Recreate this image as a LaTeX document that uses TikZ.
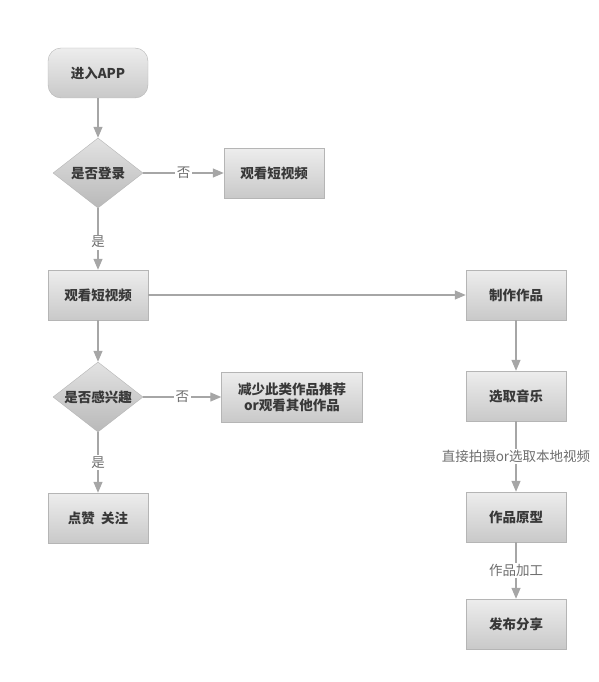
\documentclass[tikz,border=0pt]{standalone}
\usepackage{fontspec}
\setmainfont{Noto Sans CJK SC}
\usetikzlibrary{shapes.geometric, arrows.meta}
\definecolor{boxtop}{HTML}{EDEDED}
\definecolor{boxbot}{HTML}{C9C9C9}
\definecolor{boxline}{HTML}{B5B5B5}
\definecolor{flowline}{HTML}{A6A6A6}
\definecolor{boxtext}{HTML}{383838}
\definecolor{labeltext}{HTML}{6E6E6E}
\tikzstyle{startstop} = [rectangle, rounded corners=13pt, minimum width=100pt, minimum height=50pt, text centered, draw=boxline, top color=boxtop, bottom color=boxbot, text=boxtext, font=\fontsize{13.5}{16}\selectfont\bfseries]
\tikzstyle{process} = [rectangle, minimum width=100pt, minimum height=50pt, text centered, draw=boxline, top color=boxtop, bottom color=boxbot, text=boxtext, font=\fontsize{13.5}{16}\selectfont\bfseries]
\tikzstyle{decision} = [diamond, aspect=1.3, minimum width=90pt, minimum height=70pt, inner sep=0pt, text centered, draw=boxline, top color=boxtop!70!boxbot, bottom color=boxbot!92!black, text=boxtext, font=\fontsize{13.5}{16}\selectfont\bfseries]
\tikzstyle{arrow} = [line width=1.3pt, draw=flowline, -{Triangle[length=11pt,width=9pt]}, color=flowline]
\tikzstyle{edgelabel} = [fill=white, inner sep=1.5pt, text=labeltext, font=\fontsize{13.5}{16}\selectfont]

\begin{document}
\begin{tikzpicture}[node distance=100pt]
\useasboundingbox (0pt,0pt) rectangle (598pt,-682pt);

\node (start) [startstop] at (98pt,-73pt) {进入APP};
\node (login) [decision, below of=start] {是否登录};
\node (guest) [process, right of=login, xshift=76pt] {观看短视频};

\node (watch) [process, below of=login, yshift=-22pt] {观看短视频};
\node (like) [decision, below of=watch, yshift=-2pt] {是否感兴趣};
\node (less) [process, right of=like, xshift=94pt, minimum width=141pt, align=center] {减少此类作品推荐\\or观看其他作品};
\node (follow) [process, below of=like, yshift=-21pt] {点赞\ \ 关注};

\node (make) [process, right of=watch, xshift=318pt] {制作作品};
\node (music) [process, below of=make, yshift=-1pt] {选取音乐};
\node (proto) [process, below of=music, yshift=-21pt] {作品原型};
\node (share) [process, below of=proto, yshift=-7pt] {发布分享};

\draw [arrow] (start) -- (login);
\draw [arrow] (login) -- node[edgelabel] {否} (guest);
\draw [arrow] (login) -- node[edgelabel, pos=0.55] {是} (watch);
\draw [arrow] (watch) -- (like);
\draw [arrow] (watch) -- (make);
\draw [arrow] (like) -- node[edgelabel] {否} (less);
\draw [arrow] (like) -- node[edgelabel] {是} (follow);
\draw [arrow] (make) -- (music);
\draw [arrow] (music) -- node[edgelabel] {直接拍摄or选取本地视频} (proto);
\draw [arrow] (proto) -- node[edgelabel] {作品加工} (share);

\end{tikzpicture}
\end{document}
